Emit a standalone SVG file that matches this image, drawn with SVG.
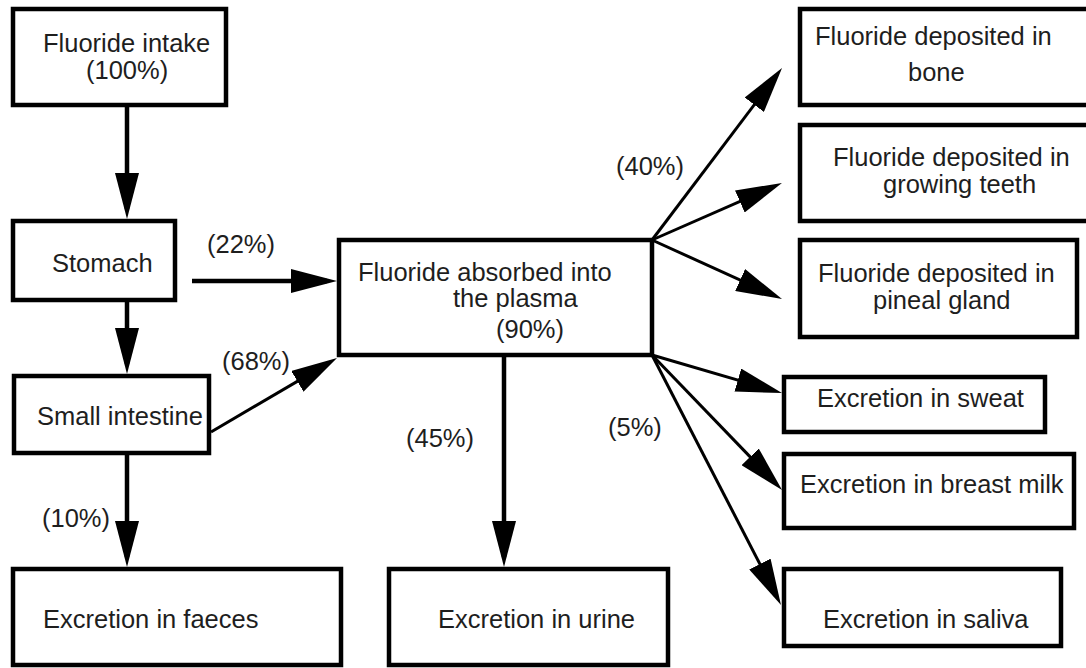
<svg xmlns="http://www.w3.org/2000/svg" width="1086" height="668" viewBox="0 0 1086 668">
<style>
.box{fill:#fff;stroke:#000;stroke-width:4.5}
.t{font-family:"Liberation Sans",Arial,sans-serif;font-size:25.5px;fill:#1e1e1e}
.c{stroke:#000;fill:none}
.thick{stroke-width:4.5}
.thin{stroke-width:3}
</style>
<defs>
<marker id="ah" markerUnits="userSpaceOnUse" viewBox="0 0 46 24" refX="36" refY="12" markerWidth="46" markerHeight="24" orient="auto">
<path d="M0,0 L46,12 L0,24 z" fill="#000"/>
</marker>
</defs>
<rect width="1086" height="668" fill="#fff"/>
<g id="connectors">
<line class="c thick" x1="127" y1="107" x2="127" y2="209" marker-end="url(#ah)"/>
<line class="c thick" x1="127" y1="302" x2="127" y2="364" marker-end="url(#ah)"/>
<line class="c thick" x1="127" y1="455" x2="127" y2="557" marker-end="url(#ah)"/>
<line class="c thick" x1="192" y1="281" x2="327" y2="281" marker-end="url(#ah)"/>
<line class="c thin" x1="211" y1="432" x2="328.4" y2="363.1" marker-end="url(#ah)"/>
<line class="c thick" x1="504" y1="357" x2="504" y2="557" marker-end="url(#ah)"/>
<line class="c thin" x1="652" y1="240" x2="776" y2="76" marker-end="url(#ah)"/>
<line class="c thin" x1="652" y1="240" x2="772.8" y2="187" marker-end="url(#ah)"/>
<line class="c thin" x1="652" y1="240" x2="772.9" y2="294.9" marker-end="url(#ah)"/>
<line class="c thin" x1="652" y1="355" x2="772.4" y2="390.2" marker-end="url(#ah)"/>
<line class="c thin" x1="652" y1="355" x2="775.1" y2="482.8" marker-end="url(#ah)"/>
<line class="c thin" x1="652" y1="355" x2="776.4" y2="596.1" marker-end="url(#ah)"/>
<text class="t" x="207" y="253">(22%)</text>
<text class="t" x="222" y="370">(68%)</text>
<text class="t" x="42" y="527">(10%)</text>
<text class="t" x="406" y="447">(45%)</text>
<text class="t" x="608" y="436">(5%)</text>
<text class="t" x="616" y="175">(40%)</text>
</g>
<g id="intake">
<rect class="box" x="13" y="9" width="213" height="96"/>
<text class="t" x="43" y="52">Fluoride intake</text>
<text class="t" x="86" y="79">(100%)</text>
</g>
<g id="stomach">
<rect class="box" x="13" y="221" width="162" height="79"/>
<text class="t" x="52" y="272">Stomach</text>
</g>
<g id="small-intestine">
<rect class="box" x="14" y="376" width="195" height="77"/>
<text class="t" x="37" y="425">Small intestine</text>
</g>
<g id="faeces">
<rect class="box" x="13" y="569" width="328" height="96"/>
<text class="t" x="43" y="628">Excretion in faeces</text>
</g>
<g id="plasma">
<rect class="box" x="339" y="240" width="313" height="115"/>
<text class="t" x="358" y="281">Fluoride absorbed into</text>
<text class="t" x="453" y="307">the plasma</text>
<text class="t" x="496" y="338">(90%)</text>
</g>
<g id="urine">
<rect class="box" x="389" y="569" width="279" height="96"/>
<text class="t" x="438" y="628">Excretion in urine</text>
</g>
<g id="bone">
<rect class="box" x="800" y="9" width="300" height="96"/>
<text class="t" x="815" y="45">Fluoride deposited in</text>
<text class="t" x="908" y="81">bone</text>
</g>
<g id="teeth">
<rect class="box" x="800" y="125" width="300" height="96"/>
<text class="t" x="833" y="166">Fluoride deposited in</text>
<text class="t" x="883" y="193">growing teeth</text>
</g>
<g id="pineal">
<rect class="box" x="800" y="240" width="277" height="97"/>
<text class="t" x="818" y="282">Fluoride deposited in</text>
<text class="t" x="873" y="309">pineal gland</text>
</g>
<g id="sweat">
<rect class="box" x="784" y="377" width="261" height="55"/>
<text class="t" x="817" y="407">Excretion in sweat</text>
</g>
<g id="breast-milk">
<rect class="box" x="784" y="454" width="290" height="74"/>
<text class="t" x="800" y="493">Excretion in breast milk</text>
</g>
<g id="saliva">
<rect class="box" x="784" y="569" width="277" height="77"/>
<text class="t" x="823" y="628">Excretion in saliva</text>
</g>
</svg>
